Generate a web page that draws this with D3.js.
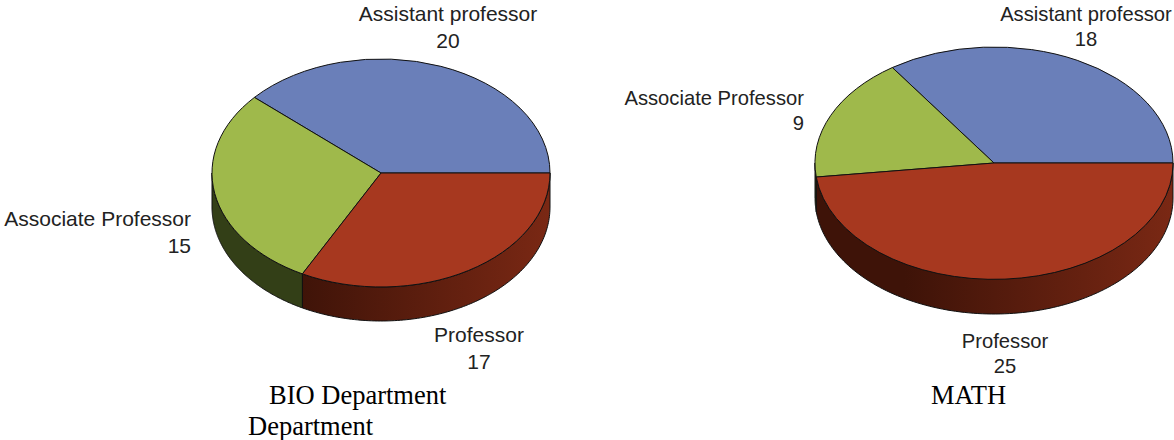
<!DOCTYPE html>
<html>
<head>
<meta charset="utf-8">
<script src="https://cdn.jsdelivr.net/npm/d3@7"></script>
<style>
  html, body { margin: 0; padding: 0; background: #fff; }
  svg { display: block; }
  .lbl { font-family: "Liberation Sans", sans-serif; fill: #222; }
  .cap { font-family: "Liberation Serif", serif; font-size: 26.5px; fill: #000; }
</style>
</head>
<body>
<script>
const categories = ["Assistant professor", "Associate Professor", "Professor"];
const bioValues = [20, 15, 17];
const mathValues = [18, 9, 25];
const topColors = ["#6a7fb9", "#9fb94b", "#a7381f"];
const sideDark = ["#36456e", "#333f17", "#3e1308"];
const sideLight = ["#36456e", "#333f17", "#7a2814"];

const width = 1174, height = 440;
const svg = d3.select("body").append("svg")
  .attr("width", width)
  .attr("height", height);

const pie = d3.pie().sort(null).startAngle(Math.PI / 2).endAngle(Math.PI / 2 - 2 * Math.PI);
const unitArc = d3.arc().innerRadius(0).outerRadius(1);

function drawPie(values, id, cx, cy, rx, ry, depth, fontSize, gap, labels) {
  const x = d3.scaleLinear().domain([-1, 1]).range([cx - rx, cx + rx]);
  const y = d3.scaleLinear().domain([-1, 1]).range([cy - ry, cy + ry]);
  const slices = pie(values);
  const g = svg.append("g");

  // rim first, only the front half of the ellipse shows
  slices.forEach((s, i) => {
    // d3 angles run clockwise from 12 o'clock, front half is -pi/2 down to -3pi/2
    const a0 = Math.max(s.endAngle, -3 * Math.PI / 2);
    const a1 = Math.min(s.startAngle, -Math.PI / 2);
    if (a1 <= a0) return;
    const pts = d3.range(0, 121).map(k => a0 + (a1 - a0) * k / 120);
    const grad = svg.append("linearGradient")
      .attr("id", id + i)
      .attr("gradientUnits", "userSpaceOnUse")
      .attr("x1", x(-1)).attr("x2", x(1)).attr("y1", 0).attr("y2", 0);
    grad.append("stop").attr("offset", "0.25").attr("stop-color", sideDark[i]);
    grad.append("stop").attr("offset", "1").attr("stop-color", sideLight[i]);
    const area = d3.area()
      .x(a => x(Math.sin(a)))
      .y0(a => y(-Math.cos(a)))
      .y1(a => y(-Math.cos(a)) + depth);
    g.append("path")
      .attr("d", area(pts))
      .attr("fill", `url(#${id + i})`)
      .attr("stroke", "#111")
      .attr("stroke-width", 1);
  });

  // top face, unit arcs squashed into the ellipse
  g.selectAll("path.top")
    .data(slices)
    .join("path")
    .attr("class", "top")
    .attr("transform", `translate(${cx},${cy}) scale(${rx},${ry})`)
    .attr("d", unitArc)
    .attr("fill", (d, i) => topColors[i])
    .attr("stroke", "#111")
    .attr("stroke-width", 1)
    .attr("vector-effect", "non-scaling-stroke");

  labels.forEach((l, i) => {
    const t = svg.append("text")
      .attr("class", "lbl")
      .attr("font-size", fontSize)
      .attr("text-anchor", l.anchor);
    t.append("tspan").attr("x", l.x).attr("y", l.y).text(categories[i]);
    t.append("tspan").attr("x", l.x).attr("y", l.y + gap).text(values[i]);
  });
}

drawPie(bioValues, "bio", 381, 173, 169, 114, 34, 21, 26.5, [
  {x: 448, y: 21, anchor: "middle"},
  {x: 191, y: 226, anchor: "end"},
  {x: 479, y: 342, anchor: "middle"}
]);
drawPie(mathValues, "math", 994, 163, 179, 116, 35, 20.2, 24.5, [
  {x: 1086, y: 21, anchor: "middle"},
  {x: 804, y: 105, anchor: "end"},
  {x: 1005, y: 348, anchor: "middle"}
]);

svg.append("text").attr("class", "cap").attr("x", 269).attr("y", 404).text("BIO Department");
svg.append("text").attr("class", "cap").attr("x", 248).attr("y", 435).text("Department");
svg.append("text").attr("class", "cap").attr("x", 931).attr("y", 404).text("MATH");
</script>
</body>
</html>
